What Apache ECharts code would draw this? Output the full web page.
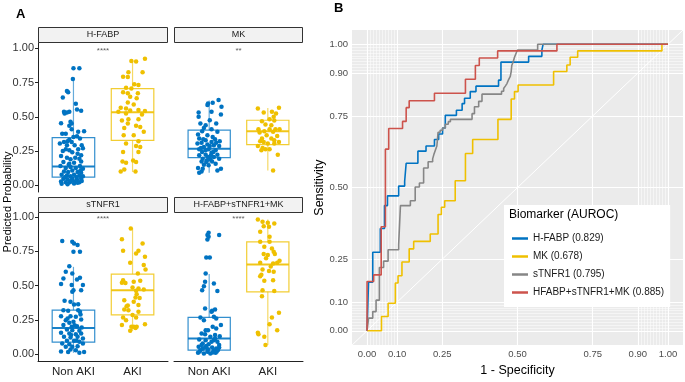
<!DOCTYPE html>
<html>
<head>
<meta charset="utf-8">
<script src="https://cdn.jsdelivr.net/npm/echarts@6/dist/echarts.min.js"></script>
<style>
  html, body { margin: 0; padding: 0; background: #fff; }
  #main { width: 685px; height: 382px; }
</style>
</head>
<body>
<div id="main"></div>
<script>
  // ---- panel A data: jittered points as [offset from group centre, predicted probability]
  var groups = ['Non AKI', 'AKI'];
  var groupColors = ['#0073C2', '#EFC000'];

  var hfabpNonAki = [[0,0.855],[0.1,0.855],[-0.01,0.777],[-0.11,0.689],[-0.09,0.679],[-0.18,0.642],[0.04,0.596],[0.06,0.554],[0.13,0.544],[-0.16,0.537],[-0.11,0.532],[-0.15,0.525],[-0.07,0.537],[-0.21,0.453],[-0.05,0.463],[-0.03,0.451],[-0.07,0.434],[-0.03,0.409],[-0.19,0.377],[-0.13,0.377],[0.08,0.39],[0.18,0.395],[0.06,0.358],[0,0.353],[-0.07,0.333],[-0.1,0.321],[-0.16,0.316],[0.11,0.341],[-0.03,0.316],[-0.23,0.304],[-0.11,0.292],[0.02,0.292],[0.14,0.292],[-0.13,0.262],[-0.07,0.255],[0.08,0.262],[0.07,0.23],[0.13,0.218],[-0.21,0.213],[-0.11,0.201],[-0.05,0.189],[0.1,0.194],[-0.17,0.169],[-0.07,0.157],[0.01,0.164],[0.13,0.174],[-0.22,0.14],[-0.13,0.125],[-0.05,0.132],[0.04,0.125],[0.11,0.14],[0.16,0.12],[-0.16,0.1],[-0.09,0.096],[-0.02,0.108],[0.07,0.096],[0.13,0.091],[-0.2,0.076],[-0.11,0.071],[-0.05,0.066],[0.01,0.076],[0.1,0.071],[0.16,0.066],[-0.17,0.047],[-0.1,0.042],[-0.02,0.047],[0.06,0.042],[0.13,0.047],[-0.21,0.027],[-0.13,0.022],[-0.06,0.022],[0.02,0.027],[0.1,0.022],[-0.2,0.01],[-0.1,0.007],[0.01,0.012],[0.07,0.017],[0.14,0.03],[-0.04,0.035],[0.05,0.06],[-0.14,0.06],[0.12,0.11],[-0.08,0.15],[0.03,0.2],[-0.18,0.25],[0.16,0.27],[-0.02,0.24]];
  var hfabpAki = [[0.21,0.924],[-0.02,0.909],[0.06,0.904],[-0.07,0.826],[0.17,0.826],[-0.16,0.794],[-0.08,0.792],[0.03,0.738],[0.1,0.733],[-0.11,0.713],[-0.02,0.708],[-0.16,0.679],[-0.08,0.672],[0.09,0.672],[-0.04,0.647],[0.07,0.635],[-0.08,0.605],[0.02,0.591],[-0.2,0.566],[-0.11,0.561],[-0.24,0.537],[-0.04,0.547],[0.1,0.549],[0.21,0.542],[-0.11,0.525],[0.16,0.517],[-0.07,0.483],[0.1,0.483],[-0.18,0.473],[-0.08,0.451],[0.06,0.434],[-0.14,0.419],[0.13,0.426],[0.19,0.39],[-0.15,0.365],[0.02,0.365],[0.1,0.321],[-0.11,0.304],[0.06,0.287],[0.13,0.279],[-0.16,0.243],[0.1,0.243],[0.01,0.181],[-0.17,0.174],[-0.11,0.164],[0.06,0.169],[-0.14,0.115],[-0.2,0.1],[0.05,0.1]];

  var mkNonAki = [[0.16,0.623],[0.06,0.603],[-0.02,0.598],[-0.03,0.586],[0.21,0.574],[-0.18,0.532],[0.04,0.537],[-0.18,0.5],[0.2,0.517],[0.01,0.475],[-0.15,0.451],[-0.06,0.439],[0.12,0.451],[-0.09,0.419],[0.04,0.409],[-0.12,0.395],[0.14,0.39],[-0.19,0.37],[-0.03,0.365],[0.06,0.353],[-0.17,0.341],[-0.06,0.328],[0.18,0.321],[-0.13,0.311],[0.04,0.316],[0.12,0.311],[-0.2,0.304],[-0.03,0.297],[0.08,0.292],[-0.09,0.279],[0.17,0.287],[-0.17,0.262],[-0.01,0.262],[0.11,0.255],[-0.12,0.243],[0.04,0.238],[-0.06,0.223],[0.14,0.223],[-0.17,0.218],[-0.02,0.206],[0.08,0.206],[-0.11,0.194],[0.02,0.189],[0.17,0.194],[-0.13,0.174],[-0.05,0.169],[0.05,0.174],[0.11,0.157],[-0.09,0.15],[-0.01,0.145],[-0.19,0.125],[-0.11,0.12],[0.2,0.12],[-0.13,0.1],[0.14,0.108],[-0.17,0.091],[-0.06,0.255],[0.01,0.287],[-0.14,0.272],[0.07,0.243],[-0.04,0.181],[0.03,0.218],[-0.1,0.336],[0.1,0.336]];
  var mkAki = [[-0.17,0.561],[0.19,0.566],[-0.07,0.532],[0.07,0.537],[0.14,0.525],[0.1,0.5],[0.03,0.483],[0.11,0.473],[-0.1,0.468],[-0.16,0.409],[0.03,0.409],[0.13,0.409],[0.2,0.409],[-0.06,0.395],[0.09,0.39],[-0.1,0.341],[0.06,0.341],[0.11,0.328],[0.19,0.316],[-0.13,0.321],[0.11,0.304],[-0.17,0.287],[-0.09,0.272],[-0.04,0.262],[0.03,0.262],[-0.11,0.255],[0.17,0.223],[0.09,0.108],[-0.02,0.365],[0.16,0.36],[-0.14,0.385],[0.06,0.439],[-0.04,0.444],[0,0.304],[-0.07,0.316]];

  var stnfr1NonAki = [[-0.19,0.825],[-0.02,0.82],[0.01,0.808],[0.07,0.796],[0,0.747],[0.11,0.747],[-0.07,0.642],[-0.13,0.601],[-0.02,0.589],[-0.17,0.552],[0.06,0.545],[0.11,0.557],[-0.21,0.511],[-0.03,0.504],[0.16,0.504],[0,0.467],[0.13,0.467],[-0.02,0.455],[-0.15,0.389],[-0.05,0.382],[0.01,0.363],[0.08,0.365],[-0.17,0.321],[-0.09,0.316],[0.08,0.321],[0.11,0.309],[-0.21,0.277],[-0.05,0.277],[0.04,0.273],[-0.13,0.248],[0.13,0.253],[-0.07,0.229],[0,0.236],[-0.17,0.212],[-0.03,0.2],[0.06,0.204],[0.14,0.195],[-0.11,0.18],[-0.02,0.175],[0.1,0.17],[-0.21,0.156],[-0.07,0.151],[0.04,0.146],[0.13,0.151],[-0.16,0.127],[-0.05,0.122],[0.07,0.127],[0.16,0.114],[-0.11,0.097],[0.01,0.097],[0.1,0.09],[-0.19,0.078],[-0.07,0.073],[0.16,0.078],[-0.13,0.054],[-0.02,0.054],[0.07,0.058],[-0.21,0.019],[-0.09,0.015],[0.1,0.01],[0.18,0.015],[-0.05,0.034],[0.04,0.029],[0.02,0.21],[-0.1,0.26],[0.12,0.29],[-0.04,0.14],[0.05,0.1]];
  var stnfr1Aki = [[-0.03,0.917],[-0.18,0.839],[0.17,0.808],[-0.16,0.754],[0.1,0.754],[0.06,0.735],[0.21,0.71],[-0.04,0.667],[0.19,0.65],[0.22,0.618],[0.09,0.589],[-0.16,0.54],[-0.18,0.521],[0.02,0.528],[0.13,0.535],[0,0.487],[0.1,0.479],[0.19,0.472],[0.06,0.462],[0.07,0.438],[0.05,0.414],[-0.14,0.394],[0.02,0.382],[0.1,0.358],[-0.1,0.35],[-0.14,0.326],[-0.07,0.321],[0.1,0.309],[0,0.285],[-0.16,0.268],[0.06,0.268],[-0.11,0.248],[0.21,0.219],[-0.18,0.212],[-0.02,0.2],[0.02,0.2],[0.07,0.2],[-0.04,0.17],[0.05,0.19],[-0.08,0.355],[0.12,0.41],[-0.12,0.52]];

  var comboNonAki = [[-0.01,0.886],[-0.03,0.869],[-0.01,0.856],[-0.03,0.837],[0.17,0.869],[-0.05,0.706],[0.01,0.706],[-0.06,0.589],[-0.07,0.528],[0.08,0.516],[-0.09,0.496],[-0.12,0.467],[0.14,0.46],[-0.07,0.333],[0.1,0.326],[0.05,0.316],[0.04,0.309],[0.12,0.26],[0.08,0.273],[-0.15,0.268],[-0.09,0.248],[0.2,0.212],[-0.02,0.175],[0.12,0.187],[-0.13,0.151],[-0.07,0.146],[0.1,0.139],[0.02,0.127],[0.18,0.131],[-0.17,0.107],[-0.06,0.102],[0.08,0.102],[0.14,0.09],[-0.11,0.078],[-0.01,0.073],[0.17,0.066],[-0.18,0.054],[-0.07,0.049],[0.05,0.049],[0.12,0.041],[-0.15,0.029],[-0.03,0.017],[0.08,0.024],[-0.19,0.01],[-0.09,0.005],[0.02,0.005],[0.11,0.01],[0.17,0.049],[-0.13,0.066],[0.04,0.09],[-0.06,0.175],[0.06,0.2],[-0.16,0.02],[0.13,0.02],[-0.02,0.035],[0.06,0.012],[-0.11,0.04],[0.15,0.03],[-0.05,0.06],[0.1,0.115]];
  var comboAki = [[-0.17,0.983],[-0.09,0.966],[0,0.959],[0.11,0.954],[-0.07,0.934],[0.02,0.929],[-0.13,0.893],[0.03,0.856],[-0.13,0.82],[0.03,0.82],[-0.06,0.783],[0.07,0.771],[-0.07,0.73],[0,0.723],[0.1,0.747],[0.16,0.667],[0.2,0.681],[-0.13,0.667],[0.09,0.662],[-0.09,0.618],[0.02,0.606],[-0.13,0.569],[0.1,0.601],[-0.06,0.535],[0.09,0.54],[-0.09,0.467],[0.11,0.46],[-0.1,0.423],[0.19,0.302],[0.07,0.268],[0.03,0.219],[0.16,0.175],[-0.17,0.156],[-0.16,0.146],[-0.06,0.127],[-0.04,0.066],[0.05,0.64],[-0.03,0.7],[0.12,0.73],[-0.11,0.58]];

  // box stats per group: [lower whisker, Q1, median, Q3, upper whisker]
  var hfabpBox = [[0.005,0.059,0.137,0.348,0.78],[0.096,0.328,0.534,0.706,0.917]];
  var mkBox = [[0.091,0.201,0.267,0.402,0.62],[0.108,0.297,0.395,0.475,0.564]];
  var stnfr1Box = [[0.01,0.088,0.19,0.321,0.637],[0.17,0.287,0.467,0.584,0.917]];
  var comboBox = [[0.0,0.029,0.114,0.268,0.585],[0.066,0.455,0.655,0.82,0.983]];

  var probTicks = [0, 0.25, 0.5, 0.75, 1];

  // ---- panel B data: ROC curves as [1 - specificity, sensitivity]
  var hfabpRoc = [[0,0],[0.005,0.17],[0.019,0.274],[0.044,0.357],[0.058,0.437],[0.068,0.471],[0.105,0.505],[0.125,0.522],[0.13,0.585],[0.169,0.627],[0.196,0.645],[0.224,0.668],[0.238,0.687],[0.251,0.708],[0.26,0.752],[0.297,0.77],[0.316,0.793],[0.324,0.812],[0.343,0.835],[0.362,0.854],[0.437,0.875],[0.445,0.938],[0.537,0.958],[0.581,0.98],[0.585,1],[1,1]];
  var mkRoc = [[0,0],[0.048,0.05],[0.07,0.096],[0.094,0.167],[0.103,0.192],[0.116,0.24],[0.14,0.286],[0.155,0.312],[0.21,0.338],[0.236,0.406],[0.247,0.431],[0.258,0.454],[0.293,0.524],[0.327,0.619],[0.351,0.668],[0.435,0.738],[0.479,0.809],[0.49,0.835],[0.502,0.858],[0.62,0.905],[0.664,0.928],[0.675,0.955],[0.7,0.977],[0.98,1],[1,1]];
  var stnfr1Roc = [[0,0],[0.005,0.044],[0.019,0.067],[0.03,0.107],[0.041,0.221],[0.055,0.243],[0.07,0.283],[0.105,0.3],[0.111,0.437],[0.144,0.454],[0.16,0.502],[0.174,0.516],[0.188,0.568],[0.203,0.59],[0.218,0.6],[0.222,0.615],[0.227,0.63],[0.232,0.645],[0.236,0.693],[0.243,0.7],[0.251,0.708],[0.26,0.721],[0.27,0.73],[0.277,0.738],[0.349,0.758],[0.357,0.782],[0.371,0.801],[0.382,0.826],[0.447,0.836],[0.454,0.846],[0.46,0.855],[0.465,0.863],[0.47,0.876],[0.476,0.888],[0.479,0.905],[0.481,0.926],[0.486,0.94],[0.49,0.955],[0.495,0.968],[0.5,0.98],[0.567,1],[1,1]];
  var comboRoc = [[0,0],[0,0.172],[0.022,0.195],[0.047,0.363],[0.061,0.634],[0.072,0.706],[0.118,0.731],[0.13,0.779],[0.14,0.803],[0.224,0.829],[0.327,0.878],[0.36,0.926],[0.373,0.952],[0.434,0.977],[0.631,1],[1,1]];

  var rocNames = ['H-FABP (0.829)', 'MK (0.678)', 'sTNFR1 (0.795)', 'HFABP+sTNFR1+MK (0.885)'];
  var rocColors = ['#0073C2', '#EFC000', '#868686', '#CD534C'];
  var rocTicks = [0, 0.1, 0.25, 0.5, 0.75, 0.9, 1];
  var rocFineTicks = [0.01,0.02,0.03,0.04,0.05,0.06,0.07,0.08,0.09,0.91,0.92,0.93,0.94,0.95,0.96,0.97,0.98,0.99];
  var chanceLine = [[-0.05,-0.05],[1.05,1.05]];

  var FONT = 'Liberation Sans, Arial, sans-serif';

  var facets = [
    {name: 'H-FABP', stars: '****', box: hfabpBox, pts: [hfabpNonAki, hfabpAki]},
    {name: 'MK', stars: '**', box: mkBox, pts: [mkNonAki, mkAki]},
    {name: 'sTNFR1', stars: '****', box: stnfr1Box, pts: [stnfr1NonAki, stnfr1Aki]},
    {name: 'H-FABP+sTNFR1+MK', stars: '****', box: comboBox, pts: [comboNonAki, comboAki]}
  ];
  var facetGrids = [
    {left: 38, top: 43, width: 130, height: 149},
    {left: 174, top: 43, width: 129, height: 149},
    {left: 38, top: 213, width: 130, height: 148},
    {left: 174, top: 213, width: 129, height: 148}
  ];

  function renderBox(params, api) {
    var g = api.value(0);
    var half = 0.36;
    var color = groupColors[params.dataIndex];
    var low = api.coord([g, api.value(1)]);
    var q1 = api.coord([g, api.value(2)]);
    var q3 = api.coord([g, api.value(4)]);
    var high = api.coord([g, api.value(5)]);
    var bl = api.coord([g - half, api.value(2)]);
    var tr = api.coord([g + half, api.value(4)]);
    var ml = api.coord([g - half, api.value(3)]);
    var mr = api.coord([g + half, api.value(3)]);
    return {
      type: 'group',
      children: [
        {type: 'line', shape: {x1: high[0], y1: high[1], x2: q3[0], y2: q3[1]}, style: {stroke: color, lineWidth: 1.2, opacity: 0.6}},
        {type: 'line', shape: {x1: q1[0], y1: q1[1], x2: low[0], y2: low[1]}, style: {stroke: color, lineWidth: 1.2, opacity: 0.6}},
        {type: 'rect', shape: {x: bl[0], y: tr[1], width: tr[0] - bl[0], height: bl[1] - tr[1]}, style: {fill: 'none', stroke: color, lineWidth: 1.2, opacity: 0.8}},
        {type: 'line', shape: {x1: ml[0], y1: ml[1], x2: mr[0], y2: mr[1]}, style: {stroke: color, lineWidth: 2, opacity: 0.9}}
      ]
    };
  }

  var grids = [], xAxes = [], yAxes = [], series = [], graphics = [];

  facets.forEach(function (f, i) {
    var pos = facetGrids[i];
    var isLeft = (i % 2 === 0);
    var isBottom = (i >= 2);
    grids.push({left: pos.left, top: pos.top, width: pos.width, height: pos.height});
    xAxes.push({
      type: 'value', gridIndex: i, min: 0.4, max: 2.6,
      splitLine: {show: false},
      axisLine: {show: isBottom, onZero: false, lineStyle: {color: '#222', width: 1}},
      axisTick: {show: false},
      axisLabel: {show: isBottom, customValues: [1, 2], margin: 5, fontSize: 11.5, color: '#222', fontFamily: FONT,
        formatter: function (v) { return groups[Math.round(v) - 1]; }}
    });
    yAxes.push({
      type: 'value', gridIndex: i, min: -0.05, max: isBottom ? 1.03 : 1.04,
      splitLine: {show: false},
      axisLine: {show: isLeft, onZero: false, lineStyle: {color: '#222', width: 1}},
      axisTick: {show: isLeft, customValues: probTicks, length: 3, lineStyle: {color: '#222'}},
      axisLabel: {show: isLeft, customValues: probTicks, margin: 4, fontSize: 11, color: '#333', fontFamily: FONT,
        formatter: function (v) { return v.toFixed(2); }}
    });
    series.push({
      type: 'custom', xAxisIndex: i, yAxisIndex: i, renderItem: renderBox, silent: true, z: 2,
      encode: {x: 0, y: [1, 2, 3, 4, 5]},
      data: [[1].concat(f.box[0]), [2].concat(f.box[1])]
    });
    f.pts.forEach(function (pts, gi) {
      series.push({
        type: 'scatter', xAxisIndex: i, yAxisIndex: i, symbolSize: 4.5, silent: true, z: 3,
        itemStyle: {color: groupColors[gi], opacity: 1},
        data: pts.map(function (p) { return [gi + 1 + p[0], p[1]]; })
      });
    });
    series.push({
      type: 'scatter', xAxisIndex: i, yAxisIndex: i, symbolSize: 1, silent: true, z: 4,
      itemStyle: {color: 'transparent'},
      label: {show: true, position: 'inside', formatter: f.stars, fontSize: 8, color: '#333', fontFamily: FONT},
      data: [[1.5, 0.985]]
    });
    graphics.push({
      type: 'rect', shape: {x: pos.left + 0.5, y: pos.top - 15.5, width: pos.width - 1, height: 15},
      style: {fill: '#F2F2F2', stroke: '#333', lineWidth: 1}
    });
    graphics.push({
      type: 'text', x: pos.left + pos.width / 2, y: pos.top - 8,
      style: {text: f.name, fontSize: 9, fill: '#1A1A1A', fontFamily: FONT, align: 'center', verticalAlign: 'middle'}
    });
  });

  // ---- panel B
  grids.push({left: 352, top: 30, width: 331, height: 322, show: true, backgroundColor: '#EBEBEB', borderWidth: 0});
  xAxes.push({
    type: 'value', gridIndex: 4, min: -0.05, max: 1.05,
    splitLine: {show: false}, axisLine: {show: false},
    axisTick: {show: true, customValues: rocTicks, length: 3, lineStyle: {color: '#333'}},
    axisLabel: {customValues: rocTicks, margin: 4, fontSize: 9.5, color: '#4D4D4D', fontFamily: FONT,
      formatter: function (v) { return v.toFixed(2); }},
    name: '1 - Specificity', nameLocation: 'middle', nameGap: 15,
    nameTextStyle: {fontSize: 12.5, color: '#000', fontFamily: FONT}
  });
  yAxes.push({
    type: 'value', gridIndex: 4, min: -0.05, max: 1.05,
    splitLine: {show: false}, axisLine: {show: false},
    axisTick: {show: true, customValues: rocTicks, length: 3, lineStyle: {color: '#333'}},
    axisLabel: {customValues: rocTicks, margin: 4, fontSize: 9.5, color: '#4D4D4D', fontFamily: FONT,
      formatter: function (v) { return v.toFixed(2); }},
    name: 'Sensitivity', nameLocation: 'middle', nameGap: 25,
    nameTextStyle: {fontSize: 12.5, color: '#000', fontFamily: FONT}
  });

  var gridLines = [];
  rocTicks.forEach(function (v) {
    gridLines.push({xAxis: v, lineStyle: {width: 1.1}});
    gridLines.push({yAxis: v, lineStyle: {width: 1.1}});
  });
  rocFineTicks.forEach(function (v) {
    gridLines.push({xAxis: v, lineStyle: {width: 0.5}});
    gridLines.push({yAxis: v, lineStyle: {width: 0.5}});
  });
  series.push({
    type: 'line', xAxisIndex: 4, yAxisIndex: 4, silent: true, showSymbol: false, z: 1,
    data: chanceLine,
    lineStyle: {color: '#fff', width: 1},
    markLine: {
      silent: true, z: 1, symbol: ['none', 'none'], label: {show: false},
      lineStyle: {color: '#fff', type: 'solid', opacity: 1},
      emphasis: {disabled: true},
      data: gridLines
    }
  });
  [hfabpRoc, mkRoc, stnfr1Roc, comboRoc].forEach(function (d, k) {
    series.push({
      name: rocNames[k], type: 'line', xAxisIndex: 4, yAxisIndex: 4, step: 'end',
      showSymbol: false, silent: true, z: 3 + k,
      itemStyle: {color: rocColors[k]},
      lineStyle: {color: rocColors[k], width: 1.6},
      data: d
    });
  });

  graphics.push({type: 'text', x: 16, y: 14, style: {text: 'A', fontSize: 13, fontWeight: 'bold', fill: '#000', fontFamily: FONT, verticalAlign: 'middle'}});
  graphics.push({type: 'text', x: 334, y: 8, style: {text: 'B', fontSize: 13, fontWeight: 'bold', fill: '#000', fontFamily: FONT, verticalAlign: 'middle'}});
  graphics.push({type: 'text', x: 8, y: 202, rotation: Math.PI / 2,
    style: {text: 'Predicted Probability', fontSize: 11, fill: '#000', fontFamily: FONT, align: 'center', verticalAlign: 'middle'}});

  var chart = echarts.init(document.getElementById('main'), null, {renderer: 'canvas'});
  chart.setOption({
    animation: false,
    backgroundColor: '#fff',
    textStyle: {fontFamily: FONT},
    title: {
      text: 'Biomarker (AUROC)', left: 509, top: 209, padding: 0,
      textStyle: {fontSize: 12, fontWeight: 'normal', color: '#000', fontFamily: FONT}
    },
    legend: {
      data: rocNames, orient: 'vertical', left: 504, top: 205,
      padding: [27, 6, 8, 8], itemGap: 5, itemWidth: 16, itemHeight: 2.5, icon: 'rect',
      backgroundColor: '#fff', selectedMode: false,
      textStyle: {fontSize: 10, color: '#1A1A1A', lineHeight: 13, fontFamily: FONT}
    },
    grid: grids,
    xAxis: xAxes,
    yAxis: yAxes,
    series: series,
    graphic: graphics
  });
</script>
</body>
</html>
